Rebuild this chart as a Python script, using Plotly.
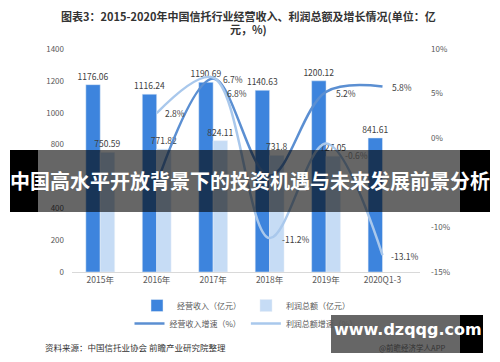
import plotly.graph_objects as go

categories = ["2015年", "2016年", "2017年", "2018年", "2019年", "2020Q1-3"]
revenue = [1176.06, 1116.24, 1190.69, 1140.63, 1200.12, 841.61]
profit = [750.59, 771.82, 824.11, 731.8, 727.05, None]
revenue_growth = [None, -5.1, 6.7, -4.2, 5.2, 5.8]
profit_growth = [None, 2.8, 6.8, -11.2, -0.6, -13.1]
left_ticks = [0, 200, 400, 800, 1000, 1200, 1400]
right_ticks = [-15, -10, 0, 5, 10]
right_labels = ["-15%", "-10%", "0%", "5%", "10%"]

FONT = "Noto Sans CJK SC"
# page body has an 8px margin; figure sized so it ends at the window edge
W, H = 492, 354
L, R, T, B = 64, 80, 41, 90
pw, ph = W - L - R, H - T - B
OFF = 8


def px(x):
    # window pixel x -> paper x
    return (x - OFF - L) / pw


def py(y):
    # window pixel y -> paper y
    return (H - B - (y - OFF)) / ph


fig = go.Figure()
fig.add_trace(go.Bar(
    x=categories, y=revenue, name="经营收入（亿元）",
    marker_color="#3d84dd", text=[f"{v:g}" for v in revenue],
    textposition="outside", textfont=dict(size=8.5, color="#404040"),
    constraintext="none", cliponaxis=False, legend="legend"))
fig.add_trace(go.Bar(
    x=categories, y=profit, name="利润总额（亿元）",
    marker_color="#c6dcf5",
    text=[f"{v:g}" if v is not None else "" for v in profit],
    textposition="outside", textfont=dict(size=8.5, color="#404040"),
    constraintext="none", cliponaxis=False, legend="legend"))
fig.add_trace(go.Scatter(
    x=categories, y=revenue_growth, name="经营收入增速（%）", yaxis="y2",
    mode="lines", line=dict(color="#5b8fd2", width=2.5, shape="spline"),
    legend="legend2"))
fig.add_trace(go.Scatter(
    x=categories, y=profit_growth, name="利润总额增速（%）", yaxis="y2",
    mode="lines", line=dict(color="#a9c8ec", width=2.5, shape="spline"),
    legend="legend2"))

annotations = []
label_specs = [
    (categories[1], profit_growth[1], 18, 0),
    (categories[2], revenue_growth[2], 20, -1),
    (categories[2], profit_growth[2], 24, -15),
    (categories[3], profit_growth[3], 26, -1),
    (categories[4], profit_growth[4], 30, -11),
    (categories[4], revenue_growth[4], 20, -1),
    (categories[5], revenue_growth[5], 19, -1),
    (categories[5], profit_growth[5], 22, -1),
]
for cx, cy, xs, ys in label_specs:
    annotations.append(dict(x=cx, y=cy, xref="x", yref="y2", text=f"{cy:g}%",
                            showarrow=False, xshift=xs, yshift=ys,
                            xanchor="center", yanchor="middle",
                            font=dict(size=8.5, color="#404040", family=FONT)))


def note(x, y, text, size, color, family=FONT, xanchor="center"):
    return dict(x=px(x), y=py(y), xref="paper", yref="paper", text=text,
                showarrow=False, xanchor=xanchor, yanchor="middle",
                font=dict(size=size, color=color, family=family))


annotations += [
    note(248, 16, "<b>图表3：2015-2020年中国信托行业经营收入、利润总额及增长情况(单位：亿</b>",
         11, "#333333"),
    note(248, 29, "<b>元，%)</b>", 11, "#333333"),
    note(250, 181, "<b>中国高水平开放背景下的投资机遇与未来发展前景分析</b>",
         20, "#ffffff"),
    note(43, 347, "资料来源：中国信托业协会 前瞻产业研究院整理", 8.5, "#333333",
         xanchor="left"),
    note(408, 330, "<b>www.dzqqg.com</b>", 16, "#ffffff", family="DejaVu Sans"),
    note(412, 347, "@前瞻经济学人APP", 7.5, "#333333"),
]

shapes = [
    dict(type="rect", xref="paper", yref="paper", x0=px(38), x1=px(460),
         y0=py(150), y1=py(212), fillcolor="rgba(0,0,0,0.6)", line_width=0,
         layer="above"),
    dict(type="rect", xref="paper", yref="paper", x0=px(10), x1=px(38),
         y0=py(150), y1=py(212), fillcolor="#000000", line_width=0,
         layer="above"),
    dict(type="rect", xref="paper", yref="paper", x0=px(460), x1=px(490),
         y0=py(150), y1=py(212), fillcolor="#000000", line_width=0,
         layer="above"),
    dict(type="rect", xref="paper", yref="paper", x0=px(331), x1=px(460),
         y0=py(315), y1=py(353), fillcolor="rgba(0,0,0,0.6)", line_width=0,
         layer="above"),
    dict(type="rect", xref="paper", yref="paper", x0=px(460), x1=px(483),
         y0=py(315), y1=py(353), fillcolor="#000000", line_width=0,
         layer="above"),
]

fig.update_layout(
    width=W, height=H,
    margin=dict(l=L, r=R, t=T, b=B),
    paper_bgcolor="white", plot_bgcolor="white",
    font=dict(family=FONT, size=8, color="#595959"),
    barmode="group", bargap=0.49, bargroupgap=0,
    xaxis=dict(showgrid=False, showline=True, linecolor="#d9d9d9",
               ticks="", tickfont=dict(size=8.5, color="#595959")),
    yaxis=dict(range=[0, 1400], tickvals=left_ticks, showgrid=False,
               zeroline=False, showline=False, ticks="",
               tickfont=dict(size=8, color="#595959"), ticklabelstandoff=7),
    yaxis2=dict(range=[-15, 10], tickvals=right_ticks, ticktext=right_labels,
                overlaying="y", side="right", showgrid=False, zeroline=False,
                showline=False, ticks="", tickfont=dict(size=8, color="#595959"),
                ticklabelstandoff=10),
    legend=dict(orientation="h", x=px(246), xanchor="center", y=py(291),
                yanchor="top", font=dict(size=8, color="#595959"),
                bgcolor="rgba(0,0,0,0)", itemwidth=30, tracegroupgap=0),
    legend2=dict(orientation="h", x=px(246), xanchor="center", y=py(309),
                 yanchor="top", font=dict(size=8, color="#595959"),
                 bgcolor="rgba(0,0,0,0)", itemwidth=30, tracegroupgap=0),
    annotations=annotations,
    shapes=shapes,
)

fig.write_html("out.html")
